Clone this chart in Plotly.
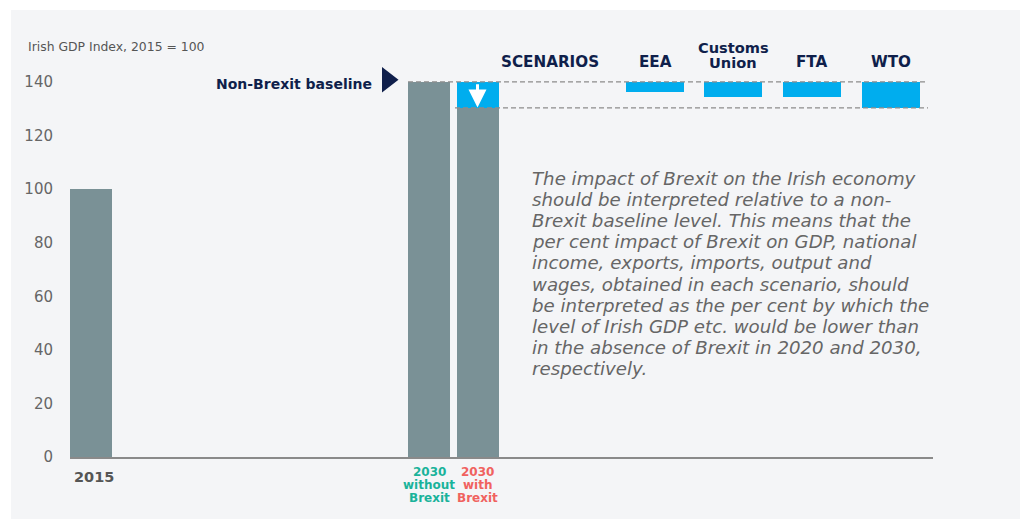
import plotly.graph_objects as go

# ---------------- data ----------------
year_labels = [["2015"], ["2030", "without", "Brexit"], ["2030", "with", "Brexit"]]
year_values = [100, 140, 130.3]
baseline = 140
with_brexit = 130.3

scenario_names = [["EEA"], ["Customs", "Union"], ["FTA"], ["WTO"]]
scenario_levels = [136.2, 134.3, 134.3, 130.4]

y_ticks = [0, 20, 40, 60, 80, 100, 120, 140]

para_lines = [
    "The impact of Brexit on the Irish economy",
    "should be interpreted relative to a non-",
    "Brexit baseline level. This means that the",
    "per cent impact of Brexit on GDP, national",
    "income, exports, imports, output and",
    "wages, obtained in each scenario, should",
    "be interpreted as the per cent by which the",
    "level of Irish GDP etc. would be lower than",
    "in the absence of Brexit in 2020 and 2030,",
    "respectively.",
]

# ---------------- positions / styles ----------------
year_pos = [2.1, 35.9, 40.75]
bar_w = 4.2
scen_pos = [58.5, 66.3, 74.2, 82.1]
scen_w = 5.8

GRAY = "#7a9196"
BLUE = "#00adee"
NAVY = "#0f1f4b"
TXT = "#666666"
FONT = "DejaVu Sans"
PX = 2.679  # pixels per y unit (for text spacing)

fig = go.Figure()

fig.add_trace(go.Bar(x=year_pos, y=year_values, width=bar_w,
                     marker=dict(color=GRAY, line=dict(width=0)),
                     hoverinfo="skip", showlegend=False))
fig.add_trace(go.Bar(x=[year_pos[2]], y=[baseline - with_brexit], base=[with_brexit],
                     width=bar_w, marker=dict(color=BLUE, line=dict(width=0)),
                     hoverinfo="skip", showlegend=False))
fig.add_trace(go.Bar(x=scen_pos, y=[baseline - v for v in scenario_levels],
                     base=scenario_levels, width=scen_w,
                     marker=dict(color=BLUE, line=dict(width=0)),
                     hoverinfo="skip", showlegend=False))
fig.add_trace(go.Scatter(x=[31.75], y=[baseline + 0.8], mode="markers",
                         marker=dict(symbol="triangle-right", size=22, color=NAVY),
                         hoverinfo="skip", showlegend=False))

fig.add_shape(type="line", x0=33.8, x1=85.8, y0=baseline, y1=baseline,
              line=dict(color="#8c8c8c", width=1.2, dash="5px,3px"))
fig.add_shape(type="line", x0=38.5, x1=85.8, y0=with_brexit, y1=with_brexit,
              line=dict(color="#8c8c8c", width=1.2, dash="5px,3px"))

# white strips outside the grey panel
fig.add_shape(type="rect", xref="paper", yref="paper", x0=-1, x1=-0.0684, y0=-1, y1=2,
              fillcolor="white", line=dict(width=0), layer="below")
fig.add_shape(type="rect", xref="paper", yref="paper", x0=-1, x1=2, y0=1.112, y1=2,
              fillcolor="white", line=dict(width=0), layer="below")

ann = []
ann.append(dict(x=year_pos[2], y=with_brexit + 0.2, ax=year_pos[2], ay=baseline - 0.3,
                xref="x", yref="y", axref="x", ayref="y", text="", showarrow=True,
                arrowhead=2, arrowsize=1.2, arrowwidth=3, arrowcolor="white"))
ann.append(dict(x=-0.0515, y=1.022, xref="paper", yref="paper", xanchor="left", yanchor="middle",
                text="Irish GDP Index, 2015 = 100", showarrow=False,
                font=dict(family=FONT, size=12.4, color="#555555")))
ann.append(dict(x=30.4, y=baseline - 0.6, xref="x", yref="y", xanchor="right", yanchor="middle",
                text="<b>Non-Brexit baseline</b>", showarrow=False,
                font=dict(family=FONT, size=14, color=NAVY)))
HEAD_Y = 147.3
ann.append(dict(x=48.0, y=HEAD_Y, xref="x", yref="y", xanchor="center", yanchor="middle",
                text="<b>SCENARIOS</b>", showarrow=False,
                font=dict(family=FONT, size=15.2, color=NAVY)))
for p, lines in zip(scen_pos, scenario_names):
    for k, line in enumerate(reversed(lines)):
        ann.append(dict(x=p, y=HEAD_Y, yshift=15 * k, xref="x", yref="y", xanchor="center",
                        yanchor="middle", text="<b>%s</b>" % line, showarrow=False,
                        font=dict(family=FONT, size=14.6 if len(lines) > 1 else 15.2,
                                  color=NAVY)))
label_colors = ["#555555", "#1ab39b", "#f0625f"]
for i, (p, lines, c) in enumerate(zip(year_pos, year_labels, label_colors)):
    for k, line in enumerate(lines):
        if i == 0:
            ys, xs, fs = -20, 3, 14.5
        else:
            ys, xs, fs = -(15 + 13 * k), 0, 12
        ann.append(dict(x=p, y=0, yshift=ys, xshift=xs, xref="x", yref="y",
                        xanchor="center", yanchor="middle", text="<b>%s</b>" % line,
                        showarrow=False, font=dict(family=FONT, size=fs, color=c)))
for k, line in enumerate(para_lines):
    ann.append(dict(x=46.0, y=(457 - 178 - 21.2 * k) / PX, xref="x", yref="y",
                    xanchor="left", yanchor="middle", align="left",
                    text="<i>%s</i>" % line, showarrow=False,
                    font=dict(family=FONT, size=18.2, color=TXT)))

fig.update_layout(
    width=1020, height=519,
    margin=dict(l=70, r=87, t=55, b=62),
    paper_bgcolor="#f4f5f7", plot_bgcolor="#f4f5f7",
    bargap=0, barmode="overlay",
    annotations=ann,
    xaxis=dict(range=[0, 86.3], showgrid=False, zeroline=False, showticklabels=False,
               ticks="", showline=True, linecolor="#8a8a8a", linewidth=2, fixedrange=True),
    yaxis=dict(range=[0, 150.06], tickvals=y_ticks, showgrid=False, zeroline=False,
               ticks="", ticklabelstandoff=16, showline=False,
               tickfont=dict(family=FONT, size=15, color=TXT), fixedrange=True),
    font=dict(family=FONT),
)

fig.write_html("out.html", config={"displayModeBar": False},
               post_script="document.body.style.margin='0';"
                           "document.body.style.background='#f4f5f7';")
